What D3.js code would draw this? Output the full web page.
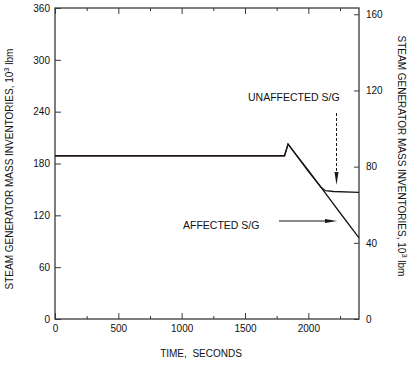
<!DOCTYPE html>
<html>
<head>
<meta charset="utf-8">
<script src="https://cdn.jsdelivr.net/npm/d3@7"></script>
<style>
  html, body { margin: 0; padding: 0; background: #fff; }
  svg { display: block; font-family: "Liberation Sans", Arial, Helvetica, sans-serif; }
</style>
</head>
<body>
<svg id="chart" width="420" height="366"></svg>
<script>
// ---- data ----
const unaffectedTime  = [0, 1812, 1840, 2000, 2100, 2135, 2200, 2400];
const unaffectedValue = [189, 189, 202.5, 171, 152.5, 148.5, 147.6, 146.5];
const affectedTime    = [0, 1812, 1840, 2000, 2130, 2250, 2400];
const affectedValue   = [189, 189, 202.5, 172, 146.5, 123, 94];
const xTicks      = [0, 500, 1000, 1500, 2000];
const xMinorTicks = [250, 750, 1250, 1750, 2250];
const yLeftTicks  = [0, 60, 120, 180, 240, 300, 360];
const yRightTicks = [0, 40, 80, 120, 160];
const xTitle = "TIME,  SECONDS";
const yTitleMain = "STEAM GENERATOR MASS INVENTORIES, 10";
const yTitleSup = "3";
const yTitleUnit = " lbm";
const labelUnaffected = "UNAFFECTED S/G";
const labelAffected = "AFFECTED S/G";

const svg = d3.select("#chart");
const L = 55, R = 359, T = 8, B = 319;
const x = d3.scaleLinear().domain([0, 2400]).range([L, R]);
const yL = d3.scaleLinear().domain([0, 360]).range([B, T]);
const yR = d3.scaleLinear().domain([0, 360 * 0.45359]).range([B, T]);

const axisColor = "#3a3a3a";
const lineColor = "#1c1418";

function styleAxis(g) {
  g.select(".domain").remove();
  g.selectAll("line").attr("stroke", axisColor).attr("stroke-width", 1);
  g.selectAll("text").attr("fill", "#111").style("font-size", "10px")
    .style("font-family", '"Liberation Sans", Arial, sans-serif');
}

// axes
svg.append("g").attr("transform", `translate(0,${B})`)
  .call(d3.axisBottom(x).tickValues(xTicks).tickSizeInner(-6).tickSizeOuter(0).tickPadding(6).tickFormat(d3.format("d")))
  .call(styleAxis);
svg.append("g").attr("transform", `translate(0,${B})`)
  .call(d3.axisBottom(x).tickValues(xMinorTicks).tickSizeInner(-3).tickSizeOuter(0).tickFormat(""))
  .call(styleAxis);
svg.append("g").attr("transform", `translate(0,${T})`)
  .call(d3.axisTop(x).tickValues(xTicks).tickSizeInner(-6).tickSizeOuter(0).tickFormat(""))
  .call(styleAxis);
svg.append("g").attr("transform", `translate(0,${T})`)
  .call(d3.axisTop(x).tickValues(xMinorTicks).tickSizeInner(-3).tickSizeOuter(0).tickFormat(""))
  .call(styleAxis);
svg.append("g").attr("transform", `translate(${L},0)`)
  .call(d3.axisLeft(yL).tickValues(yLeftTicks).tickSizeInner(-6).tickSizeOuter(0).tickPadding(5))
  .call(styleAxis);
svg.append("g").attr("transform", `translate(${R},0)`)
  .call(d3.axisRight(yR).tickValues(yRightTicks).tickSizeInner(-5).tickSizeOuter(0).tickPadding(7))
  .call(styleAxis);

// frame
svg.append("rect").attr("x", L).attr("y", T).attr("width", R - L).attr("height", B - T)
  .attr("fill", "none").attr("stroke", axisColor).attr("stroke-width", 1.3);

// lines
const line = d3.line().x(d => x(d[0])).y(d => yL(d[1]));
const unaffected = unaffectedTime.map((t, i) => [t, unaffectedValue[i]]);
const affected = affectedTime.map((t, i) => [t, affectedValue[i]]);
svg.append("path").datum(affected).attr("d", line)
  .attr("fill", "none").attr("stroke", lineColor).attr("stroke-width", 1.3);
svg.append("path").datum(unaffected).attr("d", line)
  .attr("fill", "none").attr("stroke", lineColor).attr("stroke-width", 1.3);

// titles
svg.append("text").attr("x", 201).attr("y", 357).attr("text-anchor", "middle")
  .style("font-size", "10px").attr("fill", "#111").attr("xml:space", "preserve").text(xTitle);

function yTitle(transform) {
  const t = svg.append("text").attr("transform", transform).attr("text-anchor", "middle")
    .style("font-size", "10px").attr("fill", "#111").attr("xml:space", "preserve");
  t.append("tspan").text(yTitleMain);
  t.append("tspan").attr("dy", -4).style("font-size", "7.5px").text(yTitleSup);
  t.append("tspan").attr("dy", 4).text(yTitleUnit);
}
yTitle("translate(13,169) rotate(-90)");
yTitle("translate(398,156) rotate(90)");

// annotations
svg.append("text").attr("x", 248).attr("y", 100.5).style("font-size", "10.5px").attr("fill", "#111").text(labelUnaffected);
svg.append("text").attr("x", 183).attr("y", 229).style("font-size", "10.5px").attr("fill", "#111").text(labelAffected);

// dashed vertical arrow
svg.append("line").attr("x1", 336.5).attr("x2", 336.5).attr("y1", 113).attr("y2", 174)
  .attr("stroke", lineColor).attr("stroke-width", 1).attr("stroke-dasharray", "3,2");
svg.append("path").attr("d", "M334.5,172 L338.5,172 L336.5,185 Z").attr("fill", lineColor);

// horizontal arrow
svg.append("line").attr("x1", 279).attr("x2", 327).attr("y1", 221).attr("y2", 221)
  .attr("stroke", lineColor).attr("stroke-width", 1);
svg.append("path").attr("d", "M325,219 L325,223 L337,221 Z").attr("fill", lineColor);
</script>
</body>
</html>
